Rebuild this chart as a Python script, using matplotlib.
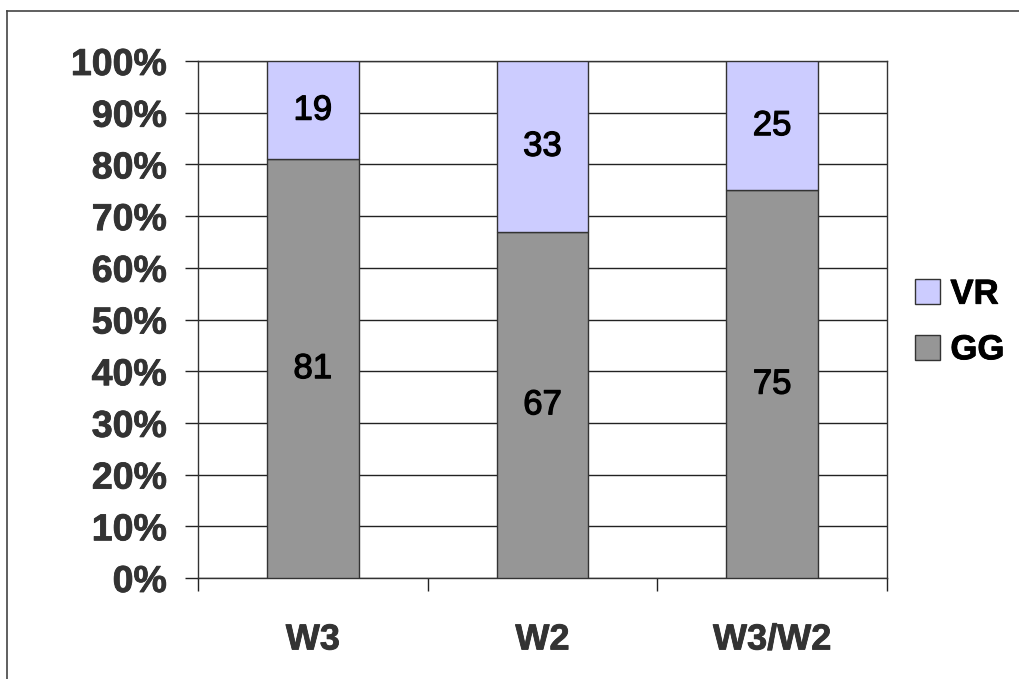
import matplotlib
matplotlib.use("Agg")
import matplotlib.pyplot as plt
import matplotlib.patheffects as pe
from matplotlib.lines import Line2D
import numpy as np

categories = ["W3", "W2", "W3/W2"]
gg_values = [81, 67, 75]
vr_values = [19, 33, 25]
y_ticks = [0, 10, 20, 30, 40, 50, 60, 70, 80, 90, 100]
y_tick_labels = [f"{v}%" for v in y_ticks]

plt.rcParams['font.family'] = ['Liberation Sans', 'DejaVu Sans']

fig = plt.figure(figsize=(10.2, 6.79), dpi=100)
ax = fig.add_axes([198/1020, 1-578/679, (887-198)/1020, (578-61)/679])

x = np.arange(len(categories))
w = 0.4
gg_col = "#969696"
vr_col = "#CCCCFF"
edge = "#333333"
b1 = ax.bar(x, gg_values, w, color=gg_col, edgecolor=edge, linewidth=1.0, label="GG", zorder=3)
b2 = ax.bar(x, vr_values, w, bottom=gg_values, color=vr_col, edgecolor=edge, linewidth=1.0, label="VR", zorder=3)

semi = [pe.withStroke(linewidth=0.9, foreground="black")]
for i in range(len(categories)):
    ax.text(x[i], gg_values[i]/2, str(gg_values[i]), ha="center", va="center",
            fontsize=25, color="black", zorder=4, path_effects=semi)
    ax.text(x[i], gg_values[i] + vr_values[i]/2, str(vr_values[i]), ha="center", va="center",
            fontsize=25, color="black", zorder=4, path_effects=semi)

ax.set_xlim(-0.5, len(categories) - 0.5)
ax.set_ylim(0, 100)
ax.set_yticks(y_ticks)
ax.set_yticklabels(y_tick_labels, fontsize=27, fontweight="bold", color="#333333")
ax.yaxis.grid(True, color="#222222", linewidth=1.0, zorder=0)
ax.set_axisbelow(True)

ax.set_xticks(x)
ax.set_xticklabels(categories, fontsize=26, fontweight="bold", color="#333333")
ax.set_xticks(np.arange(-0.5, len(categories) + 0.5, 1.0), minor=True)
ax.tick_params(axis="x", which="major", length=0, pad=32)
ax.tick_params(axis="x", which="minor", length=9.4, width=1.0, color="#222222", direction="out")
ax.tick_params(axis="y", which="major", length=9.4, width=1.0, color="#222222", direction="out", pad=13)

heavy = [pe.withStroke(linewidth=0.6, foreground="#333333")]
for t in ax.get_yticklabels() + ax.get_xticklabels():
    t.set_path_effects(heavy)

for s in ax.spines.values():
    s.set_color("#333333")
    s.set_linewidth(1.0)

handles = [b2, b1]
leg = ax.legend(handles, ["VR", "GG"], loc="center left", bbox_to_anchor=(915/1020, 1-322/679),
                bbox_transform=fig.transFigure, frameon=False,
                prop={"weight": "bold", "size": 25},
                handlelength=0.72, handleheight=0.72, handletextpad=0.3, labelspacing=0.65,
                borderpad=0, borderaxespad=0)
for t in leg.get_texts():
    t.set_color("black")
    t.set_path_effects([pe.withStroke(linewidth=0.6, foreground="black")])

# outer border
fig.add_artist(Line2D([7/1020, 7/1020], [0, 1-11/679], transform=fig.transFigure, color="#444444", linewidth=1.2))
fig.add_artist(Line2D([7/1020, 1], [1-11/679, 1-11/679], transform=fig.transFigure, color="#444444", linewidth=1.2))

fig.savefig("out.png", dpi=100)
